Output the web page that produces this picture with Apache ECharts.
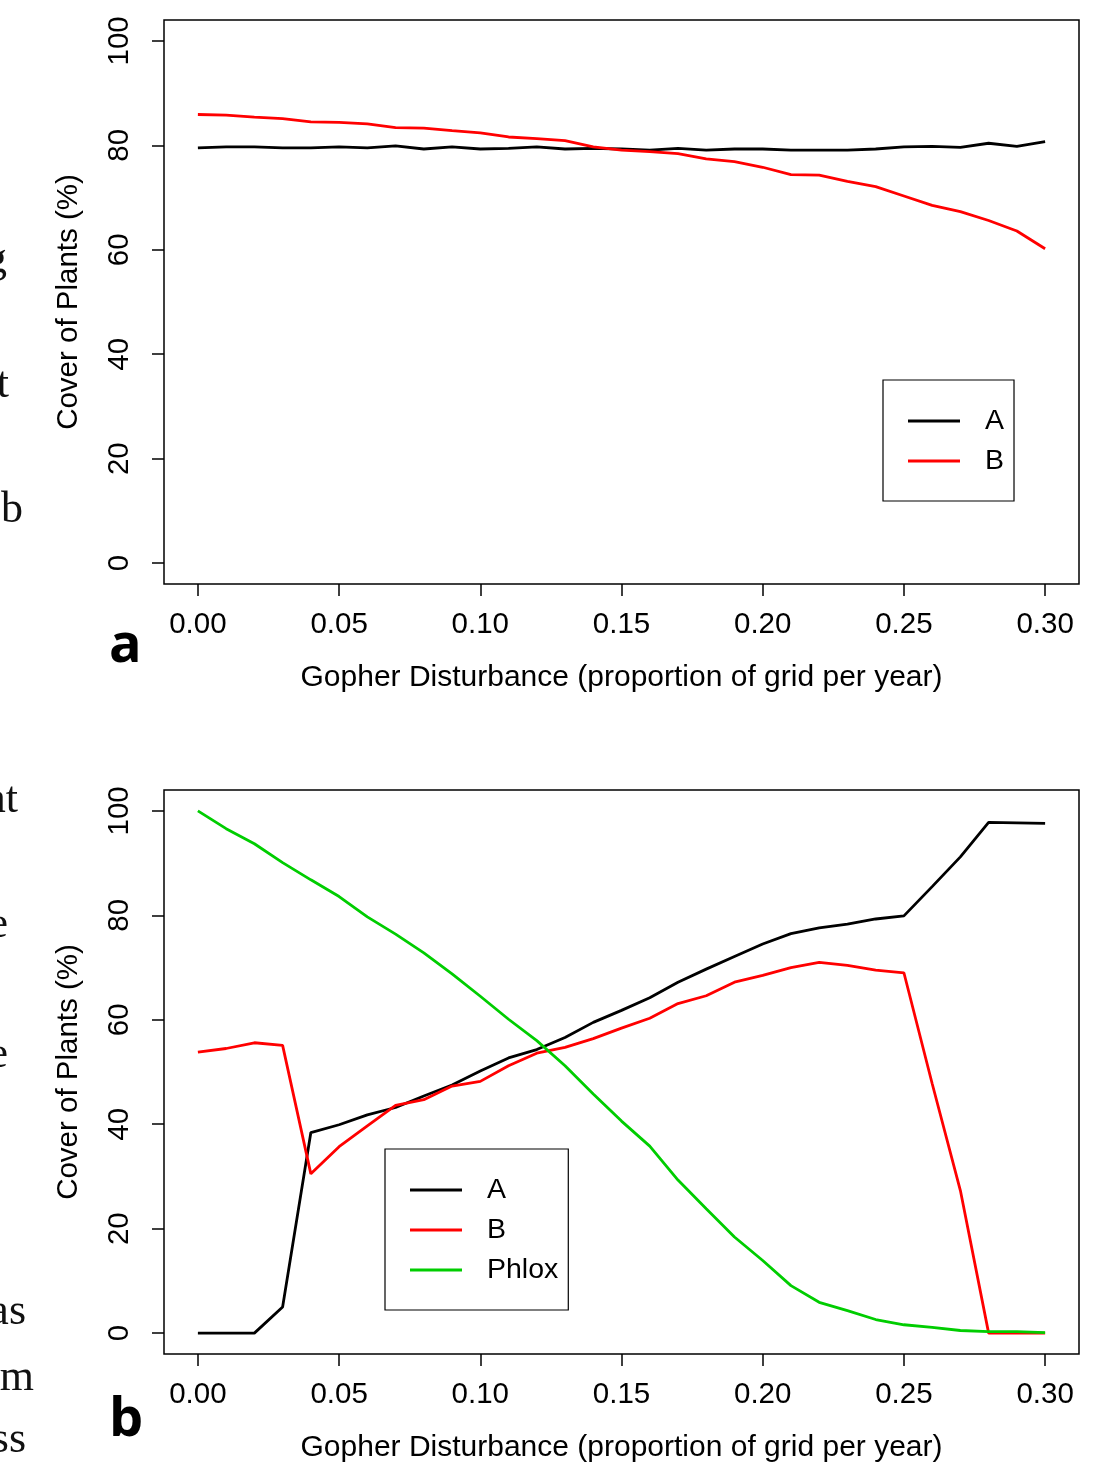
<!DOCTYPE html>
<html>
<head>
<meta charset="utf-8">
<script src="https://cdn.jsdelivr.net/npm/echarts@6/dist/echarts.min.js"></script>
<style>
html,body{margin:0;padding:0;background:#fff;}
#chart{width:1093px;height:1467px;}
</style>
</head>
<body>
<div id="chart"></div>
<script>
// Gopher disturbance (proportion of grid per year)
const disturbance = [0.00,0.01,0.02,0.03,0.04,0.05,0.06,0.07,0.08,0.09,0.10,0.11,0.12,0.13,0.14,0.15,0.16,0.17,0.18,0.19,0.20,0.21,0.22,0.23,0.24,0.25,0.26,0.27,0.28,0.29,0.30];
const xTicks = [0.00,0.05,0.10,0.15,0.20,0.25,0.30];
const yTicks = [0,20,40,60,80,100];

// Panel a
const aA = [79.5,79.7,79.7,79.5,79.5,79.7,79.5,79.9,79.3,79.7,79.3,79.4,79.7,79.3,79.4,79.3,79.1,79.4,79.1,79.3,79.3,79.1,79.1,79.1,79.3,79.7,79.8,79.6,80.4,79.8,80.7];
const aB = [85.9,85.8,85.4,85.1,84.5,84.4,84.1,83.4,83.3,82.8,82.4,81.6,81.3,80.9,79.7,79.1,78.8,78.4,77.4,76.9,75.8,74.4,74.3,73.1,72.1,70.3,68.5,67.3,65.6,63.6,60.2];

// Panel b
const bA = [0,0,0,5.0,38.4,39.9,41.8,43.2,45.4,47.5,50.2,52.7,54.3,56.6,59.5,61.8,64.2,67.2,69.7,72.1,74.5,76.5,77.6,78.3,79.3,79.9,85.5,91.2,97.8,97.7,97.6];
const bB = [53.8,54.5,55.6,55.1,30.5,35.7,39.7,43.6,44.7,47.3,48.2,51.2,53.6,54.7,56.4,58.4,60.3,63.1,64.6,67.2,68.5,70.0,71.0,70.4,69.5,69.0,47.8,27.3,0,0,0];
const bPhlox = [100,96.6,93.7,90.1,86.8,83.6,79.7,76.4,72.8,68.8,64.5,60.1,56.0,51.2,45.8,40.6,35.8,29.3,23.8,18.4,13.9,9.1,5.9,4.3,2.6,1.6,1.1,0.5,0.3,0.3,0.1];

const xTitle = 'Gopher Disturbance (proportion of grid per year)';
const yTitle = 'Cover of Plants (%)';

const FONT = '"Liberation Sans", Arial, sans-serif';
const FS = 29.5;
const pair = arr => arr.map((v, i) => [disturbance[i], v]);

function xAxis(gi) {
  return {
    gridIndex: gi, type: 'value', min: -0.012, max: 0.312,
    name: xTitle, nameLocation: 'middle', nameGap: 79,
    nameTextStyle: {fontFamily: FONT, fontSize: 30, color: '#000'},
    axisLine: {show: false, onZero: false},
    splitLine: {show: false},
    axisTick: {show: true, customValues: xTicks, length: 12, lineStyle: {color: '#000', width: 1.5}},
    axisLabel: {customValues: xTicks, margin: 26, fontFamily: FONT, fontSize: FS, color: '#000',
      formatter: v => v.toFixed(2)}
  };
}
function yAxis(gi) {
  return {
    gridIndex: gi, type: 'value', min: -4, max: 104,
    name: yTitle, nameLocation: 'middle', nameGap: 80,
    nameTextStyle: {fontFamily: FONT, fontSize: FS, color: '#000'},
    axisLine: {show: false, onZero: false},
    splitLine: {show: false},
    axisTick: {show: true, customValues: yTicks, length: 12, lineStyle: {color: '#000', width: 1.5}},
    axisLabel: {customValues: yTicks, rotate: 90, margin: 29, fontFamily: FONT, fontSize: FS, color: '#000'}
  };
}
function line(name, data, color, xi) {
  return {name, type: 'line', xAxisIndex: xi, yAxisIndex: xi, data: pair(data), showSymbol: false,
    symbol: 'none', lineStyle: {color, width: 2.8}, itemStyle: {color}, animation: false};
}
function legend(names, left, top) {
  return {
    left, top, orient: 'vertical', borderColor: '#000', borderWidth: 1.2, borderRadius: 0,
    padding: [21, 10, 20, 25], itemWidth: 52, itemHeight: 2.8, itemGap: 0, icon: 'rect',
    data: names,
    textStyle: {fontFamily: FONT, fontSize: 28.5, color: '#000', lineHeight: 40, padding: [0, 0, 0, 20]}
  };
}

const serif = '"Liberation Serif", "DejaVu Serif", serif';
const cut = [
  ['g', 7, 260], ['t', 9, 385], ['b', 23, 510],
  ['at', 18, 800], ['e', 8, 925], ['e', 8, 1055],
  ['as', 26, 1312], ['m', 34, 1378], ['ss', 26, 1440]
];

const chart = echarts.init(document.getElementById('chart'), null, {renderer: 'canvas'});
chart.setOption({
  backgroundColor: '#fff',
  animation: false,
  grid: [
    {left: 164, top: 20, width: 915, height: 564, show: true, borderColor: '#000', borderWidth: 1.5, backgroundColor: 'transparent'},
    {left: 164, top: 790, width: 915, height: 564, show: true, borderColor: '#000', borderWidth: 1.5, backgroundColor: 'transparent'}
  ],
  xAxis: [xAxis(0), xAxis(1)],
  yAxis: [yAxis(0), yAxis(1)],
  legend: [legend(['A', 'B'], 883, 380), legend(['A ', 'B ', 'Phlox'], 385, 1149)],
  series: [
    line('A', aA, '#000000', 0),
    line('B', aB, '#ff0000', 0),
    line('A ', bA, '#000000', 1),
    line('B ', bB, '#ff0000', 1),
    line('Phlox', bPhlox, '#00cd00', 1)
  ],
  graphic: [
    {type: 'text', left: 109, top: 620, style: {text: 'a', font: 'bold 54px "Open Sans", sans-serif', fill: '#000'}},
    {type: 'text', left: 109, top: 1394, style: {text: 'b', font: 'bold 54px "Open Sans", sans-serif', fill: '#000'}}
  ].concat(cut.map(c => ({type: 'text', x: c[1], y: c[2],
    style: {text: c[0], font: '44px ' + serif, fill: '#111', align: 'right', verticalAlign: 'middle'}})))
});
</script>
</body>
</html>
